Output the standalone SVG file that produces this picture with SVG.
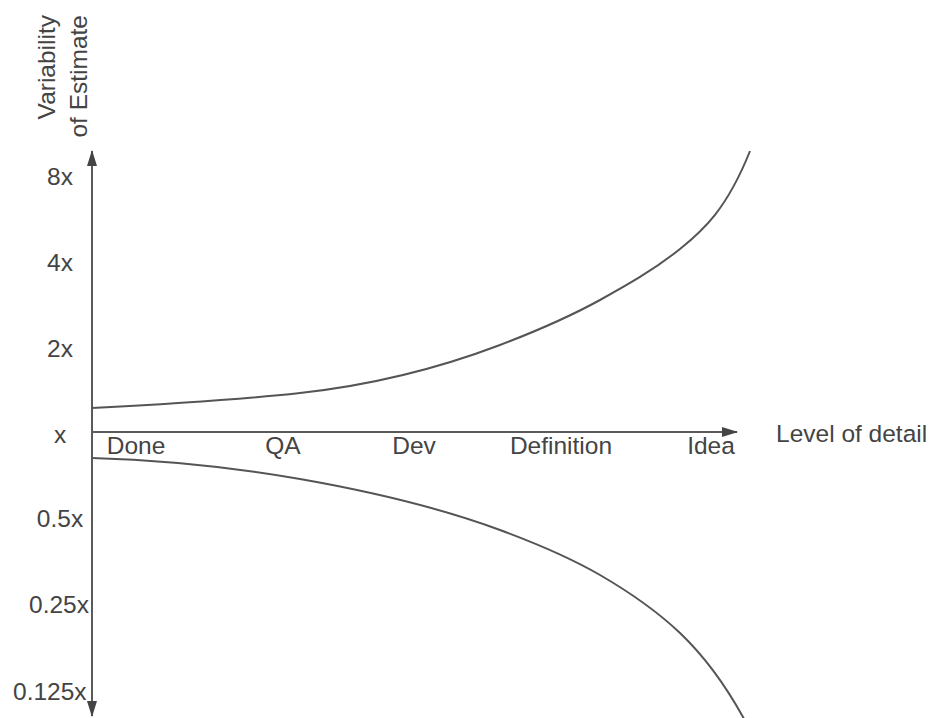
<svg xmlns="http://www.w3.org/2000/svg" width="935" height="718" viewBox="0 0 935 718">
<style>
text{font-family:"Liberation Sans",Arial,Helvetica,sans-serif;font-size:24.5px;fill:#444}
.ax{stroke:#5a5a5a;stroke-width:2;fill:none}
.cv{stroke:#555;stroke-width:2;fill:none}
.m{text-anchor:middle}
</style>
<defs>
<marker id="ah" viewBox="0 0 16 10" refX="15" refY="5" markerWidth="16" markerHeight="10" markerUnits="userSpaceOnUse" orient="auto">
<path d="M0,0 L16,5 L0,10 Z" fill="#444"/>
</marker>
</defs>
<rect width="935" height="718" fill="#fff"/>
<g id="connectors">
<line id="y-up" class="ax" x1="92" y1="432" x2="92" y2="151" marker-end="url(#ah)"/>
<line id="y-down" class="ax" x1="92" y1="432" x2="92" y2="716" marker-end="url(#ah)"/>
<line id="x-axis" class="ax" x1="92" y1="432" x2="737" y2="432" marker-end="url(#ah)"/>
<path id="upper" class="cv" d="M92,408 C161.3,404.5 230.7,400.6 300,393 C366.7,385.7 433.3,370.3 500,345 C533.3,332.3 566.7,318.3 600,300 C626.7,285.3 653.3,270.3 680,249 C703.3,230.3 726.7,209.3 750,151"/>
<path id="lower" class="cv" d="M92,458 C161.3,460.1 230.7,466.9 300,479 C366.7,490.7 433.3,505.3 500,530 C533.3,542.3 566.7,555.7 600,575 C626.7,590.5 653.3,607.7 680,633 C701,653 722,679.2 743,717 L745,721"/>
</g>
<g id="y-title">
<text transform="translate(55,15) rotate(-90)" text-anchor="end">Variability</text>
<text transform="translate(87,15) rotate(-90)" text-anchor="end">of Estimate</text>
</g>
<g id="y-ticks">
<text class="m" x="60" y="185">8x</text>
<text class="m" x="60" y="271">4x</text>
<text class="m" x="60" y="357">2x</text>
<text class="m" x="60" y="443">x</text>
<text class="m" x="60" y="527">0.5x</text>
<text class="m" x="59" y="613">0.25x</text>
<text x="13" y="700">0.125x</text>
</g>
<g id="x-ticks">
<text class="m" x="136" y="454">Done</text>
<text class="m" x="283" y="454">QA</text>
<text class="m" x="414" y="454">Dev</text>
<text class="m" x="561" y="454">Definition</text>
<text class="m" x="711" y="454">Idea</text>
</g>
<g id="x-title">
<text x="776" y="442">Level of detail</text>
</g>
</svg>
